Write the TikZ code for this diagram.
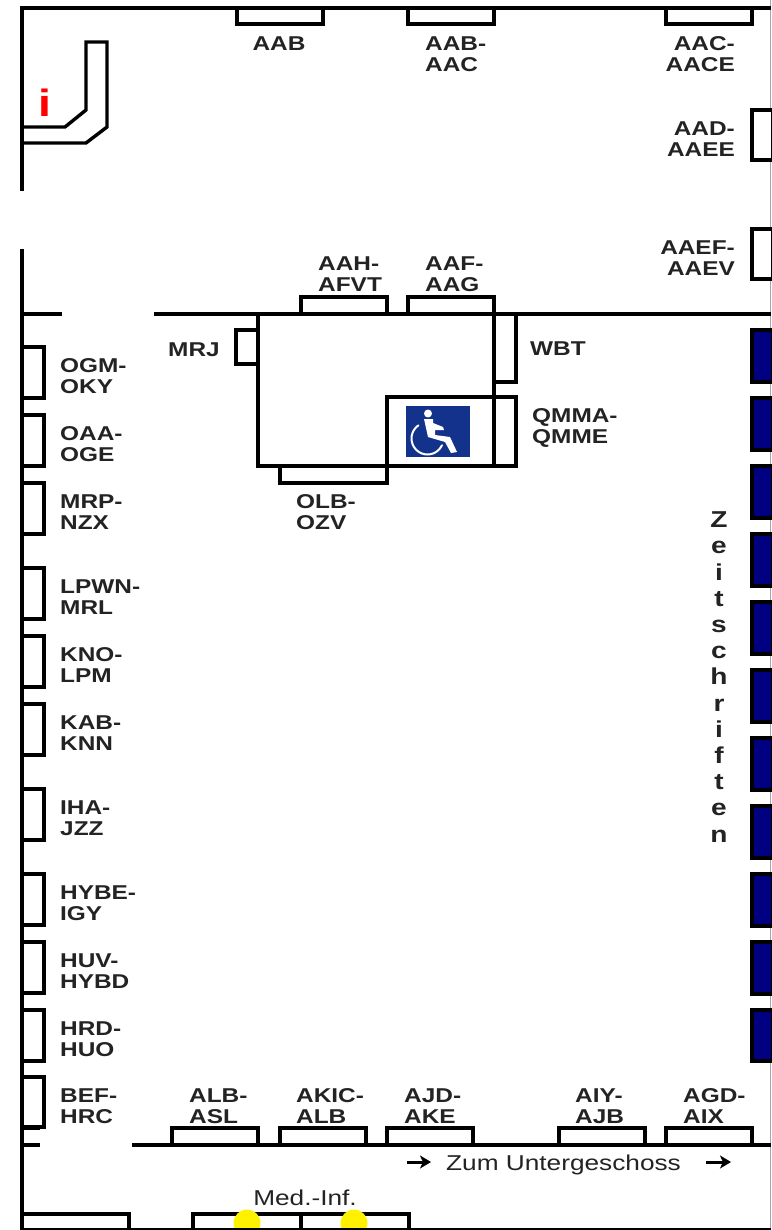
\documentclass[tikz,border=0pt]{standalone}
\usepackage{fontspec}
\setmainfont[FakeStretch=1.22]{Liberation Sans}
\usetikzlibrary{arrows.meta}
\definecolor{shelfblue}{RGB}{0,0,128}
\definecolor{signblue}{RGB}{18,50,140}
\definecolor{inkgray}{RGB}{35,35,35}
\tikzset{
	wall/.style={line width=3.4pt, line join=miter},
	shelf/.style={draw, line width=3.4pt, fill=white},
	blueshelf/.style={draw, line width=3.4pt, fill=shelfblue},
	callno/.style={inner sep=0, text=inkgray, font=\bfseries\fontsize{20}{20.8}\selectfont},
	plainlbl/.style={inner sep=0, text=inkgray, font=\fontsize{21.5}{22}\selectfont},
	downarrow/.style={line width=3pt, -{Stealth[length=11pt,width=13pt,inset=3pt]}},
	sign/.style={white, line width=2pt, line cap=round}
}

\begin{document}
\begin{tikzpicture}[x=1pt, y=-1pt]
		\useasboundingbox (0, 0) rectangle (771, 1230);
		\fill[white] (0, 0) rectangle (771, 1230);

		\draw[gray!70, line width=1pt] (770.5, 0) -- (770.5, 1230);

		\draw[wall] (22, 191) -- (22, 8) -- (771, 8);
		\draw[wall] (22, 249) -- (22, 1230);
		\draw[wall] (22, 314) -- (62, 314);
		\draw[wall] (154, 314) -- (771, 314);
		\draw[wall] (22, 1128) -- (40, 1128);
		\draw[wall] (22, 1145) -- (40, 1145);
		\draw[wall] (132, 1145) -- (771, 1145);

		\draw[wall] (22, 127) -- (65, 127) -- (86, 110) -- (86, 42) -- (107, 42) -- (107, 127) -- (86, 143) -- (22, 143);
		\node[inner sep=0, text=red, font=\bfseries\fontsize{38}{38}\selectfont] (info) at (45, 103) {i};

		\draw[shelf] (237, 8) rectangle (323, 24);
		\draw[shelf] (408, 8) rectangle (494, 24);
		\draw[shelf] (666, 8) rectangle (752, 24);
		\draw[shelf] (752, 110) rectangle (773, 160);
		\draw[shelf] (752, 229) rectangle (773, 279);

		\draw[shelf] (301, 297) rectangle (387, 314);
		\draw[shelf] (408, 297) rectangle (494, 314);
		\draw[shelf] (236, 330) rectangle (258, 364);
		\draw[shelf] (494, 314) rectangle (516, 382);
		\draw[shelf] (280, 466) rectangle (387, 483);
		\draw[shelf] (258, 314) rectangle (494, 466);
		\draw[shelf] (387, 397) rectangle (494, 466);
		\draw[shelf] (494, 397) rectangle (516, 466);

		\fill[signblue] (406, 406) rectangle (470, 457);
		\fill[white] (428, 413.5) circle (4);
		\fill[white] (424, 419) -- (433, 419) -- (433, 423) -- (443, 427) -- (444, 430) -- (435, 430) -- (435, 435) -- (450, 437) -- (457, 452) -- (451, 453) -- (445, 442) -- (428, 437) -- cycle;
		\draw[sign] (427.5, 438.5) ++ (235:16) arc[start angle=235, end angle=25, radius=16];

		\draw[shelf] (22, 347) rectangle (44, 398);
		\draw[shelf] (22, 415) rectangle (44, 466);
		\draw[shelf] (22, 483) rectangle (44, 534);
		\draw[shelf] (22, 568) rectangle (44, 619);
		\draw[shelf] (22, 636) rectangle (44, 687);
		\draw[shelf] (22, 704) rectangle (44, 755);
		\draw[shelf] (22, 789) rectangle (44, 840);
		\draw[shelf] (22, 874) rectangle (44, 925);
		\draw[shelf] (22, 942) rectangle (44, 993);
		\draw[shelf] (22, 1010) rectangle (44, 1061);
		\draw[shelf] (22, 1077) rectangle (44, 1127);

		\draw[blueshelf] (752, 330) rectangle (773, 382);
		\draw[blueshelf] (752, 398) rectangle (773, 450);
		\draw[blueshelf] (752, 466) rectangle (773, 518);
		\draw[blueshelf] (752, 534) rectangle (773, 586);
		\draw[blueshelf] (752, 602) rectangle (773, 654);
		\draw[blueshelf] (752, 670) rectangle (773, 722);
		\draw[blueshelf] (752, 738) rectangle (773, 790);
		\draw[blueshelf] (752, 806) rectangle (773, 858);
		\draw[blueshelf] (752, 874) rectangle (773, 926);
		\draw[blueshelf] (752, 942) rectangle (773, 994);
		\draw[blueshelf] (752, 1010) rectangle (773, 1061);

		\draw[shelf] (172, 1128) rectangle (258, 1145);
		\draw[shelf] (280, 1128) rectangle (366, 1145);
		\draw[shelf] (387, 1128) rectangle (473, 1145);
		\draw[shelf] (559, 1128) rectangle (645, 1145);
		\draw[shelf] (666, 1128) rectangle (752, 1145);

		\draw[shelf] (22, 1214) rectangle (129, 1232);
		\draw[shelf] (193, 1214) rectangle (301, 1232);
		\draw[shelf] (301, 1214) rectangle (409, 1232);
		\fill[yellow] (247, 1223) circle (13.5);
		\fill[yellow] (354, 1223) circle (13.5);
		\draw[line width=2.4pt] (22, 1229) -- (771, 1229);

		\node[callno] (lblAAB) at (279, 44) {AAB};
		\node[callno, anchor=west, align=left] (lblAABAAC) at (425, 54) {AAB-\\AAC};
		\node[callno, anchor=east, align=right] (lblAACAACE) at (735, 54) {AAC-\\AACE};
		\node[callno, anchor=east, align=right] (lblAADAAEE) at (735, 139) {AAD-\\AAEE};
		\node[callno, anchor=east, align=right] (lblAAEFAAEV) at (735, 258) {AAEF-\\AAEV};
		\node[callno, anchor=west, align=left] (lblAAHAFVT) at (318, 274) {AAH-\\AFVT};
		\node[callno, anchor=west, align=left] (lblAAFAAG) at (425, 274) {AAF-\\AAG};
		\node[callno, anchor=west] (lblMRJ) at (168, 350) {MRJ};
		\node[callno, anchor=west] (lblWBT) at (530, 349) {WBT};
		\node[callno, anchor=west, align=left] (lblQMMA) at (532, 428) {QMMA-\\QMME};
		\node[callno, anchor=west, align=left] (lblOLB) at (296, 512) {OLB-\\OZV};

		\node[callno, anchor=west, align=left] (lblOGM) at (60, 376) {OGM-\\OKY};
		\node[callno, anchor=west, align=left] (lblOAA) at (60, 444) {OAA-\\OGE};
		\node[callno, anchor=west, align=left] (lblMRP) at (60, 512) {MRP-\\NZX};
		\node[callno, anchor=west, align=left] (lblLPWN) at (60, 597) {LPWN-\\MRL};
		\node[callno, anchor=west, align=left] (lblKNO) at (60, 665) {KNO-\\LPM};
		\node[callno, anchor=west, align=left] (lblKAB) at (60, 733) {KAB-\\KNN};
		\node[callno, anchor=west, align=left] (lblIHA) at (60, 818) {IHA-\\JZZ};
		\node[callno, anchor=west, align=left] (lblHYBE) at (60, 903) {HYBE-\\IGY};
		\node[callno, anchor=west, align=left] (lblHUV) at (60, 971) {HUV-\\HYBD};
		\node[callno, anchor=west, align=left] (lblHRD) at (60, 1039) {HRD-\\HUO};
		\node[callno, anchor=west, align=left] (lblBEF) at (60, 1106) {BEF-\\HRC};

		\node[callno, anchor=west, align=left] (lblALB) at (189, 1106) {ALB-\\ASL};
		\node[callno, anchor=west, align=left] (lblAKIC) at (296, 1106) {AKIC-\\ALB};
		\node[callno, anchor=west, align=left] (lblAJD) at (404, 1106) {AJD-\\AKE};
		\node[callno, anchor=west, align=left] (lblAIY) at (575, 1106) {AIY-\\AJB};
		\node[callno, anchor=west, align=left] (lblAGD) at (683, 1106) {AGD-\\AIX};

		\node[callno, align=center, font=\bfseries\fontsize{23}{26.2}\selectfont] (lblZeit) at (719, 677) {Z\\e\\i\\t\\s\\c\\h\\r\\i\\f\\t\\e\\n};

		\node[plainlbl, anchor=west] (lblZum) at (446, 1165) {Zum Untergeschoss};
		\node[plainlbl] (lblMed) at (305, 1198) {Med.-Inf.};

		\coordinate (arrowAs) at (407, 1162);
		\coordinate (arrowAe) at (431, 1162);
		\coordinate (arrowBs) at (706, 1162);
		\coordinate (arrowBe) at (731, 1162);
		\draw[downarrow] (arrowAs) -- (arrowAe);
		\draw[downarrow] (arrowBs) -- (arrowBe);
	\end{tikzpicture}
\end{document}
